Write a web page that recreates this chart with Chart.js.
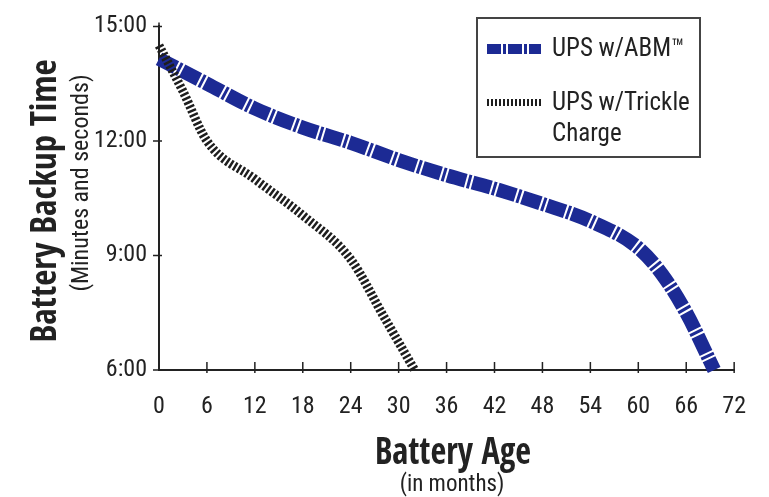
<!DOCTYPE html>
<html>
<head>
<meta charset="utf-8">
<script src="https://cdn.jsdelivr.net/npm/chart.js@4"></script>
<style>
  body { margin: 0; background: #fff; }
  #wrap { position: relative; width: 769px; height: 497px; font-family: "Roboto Condensed", sans-serif; color: #222; }
  canvas { position: absolute; left: 0; top: 0; }
  .t { position: absolute; white-space: nowrap; transform: translate(-50%, -50%); line-height: 1; }
  .bold { font-family: "Open Sans Condensed", "Roboto Condensed", sans-serif; font-weight: bold; }
  .legend { position: absolute; left: 476px; top: 17px; width: 221px; height: 137px; border: 2px solid #444; }
  .sw { position: absolute; left: 9px; width: 54px; }
  .lt { position: absolute; left: 74px; font-size: 25px; line-height: 31px; white-space: nowrap; }
</style>
</head>
<body>
<div id="wrap">
  <canvas id="chart" width="769" height="497"></canvas>
  <div class="t bold" style="left:42px; top:201px; font-size:35px; transform: translate(-50%, -50%) rotate(-90deg);">Battery Backup Time</div>
  <div class="t" style="left:80px; top:183px; font-size:24px; transform: translate(-50%, -50%) rotate(-90deg);">(Minutes and seconds)</div>
  <div class="t bold" style="left:453px; top:449px; font-size:38px; transform: translate(-50%, -50%) scaleX(0.9);">Battery Age</div>
  <div class="t" style="left:452px; top:483px; font-size:23px;">(in months)</div>
  <div class="legend">
    <div class="sw" style="top:25px; height:10px; background: repeating-linear-gradient(90deg, #1c2a94 0 14px, #fff 14px 16px, #1c2a94 16px 19px, #fff 19px 21px);"></div>
    <div class="lt" style="top:13px;">UPS w/ABM™</div>
    <div class="sw" style="top:80px; height:7px; background: repeating-linear-gradient(90deg, #1e1e1e 0 2px, #fff 2px 4px);"></div>
    <div class="lt" style="top:67px;">UPS w/Trickle<br>Charge</div>
  </div>
</div>
<script>
// battery age in months, backup time in minutes
const abmMonths = [0, 6, 12, 18, 24, 30, 36, 42, 48, 54, 60, 63, 66, 69.5];
const abmMinutes = [14.15, 13.5, 12.85, 12.35, 11.95, 11.5, 11.1, 10.75, 10.35, 9.9, 9.2, 8.5, 7.5, 6.0];
const trickleMonths = [0, 3, 6, 12, 18, 24, 28, 32];
const trickleMinutes = [14.5, 13.3, 12.0, 11.0, 10.05, 8.9, 7.45, 6.0];
const xTicks = [0, 6, 12, 18, 24, 30, 36, 42, 48, 54, 60, 66, 72];
const yTicks = [6, 9, 12, 15];

function pts(xs, ys) {
  return xs.map((x, i) => ({ x: x, y: ys[i] }));
}

const labelFont = { family: '"Roboto Condensed", sans-serif', size: 24 };

// tick marks crossing the axes
const crossTicks = {
  id: 'crossTicks',
  afterDraw(chart) {
    const ctx = chart.ctx;
    const xs = chart.scales.x, ys = chart.scales.y;
    const a = chart.chartArea;
    ctx.save();
    ctx.strokeStyle = '#222';
    ctx.lineWidth = 1.5;
    ctx.beginPath();
    xTicks.forEach(v => {
      if (v === 0) return;
      const px = xs.getPixelForValue(v);
      ctx.moveTo(px, a.bottom - 8);
      ctx.lineTo(px, a.bottom + 3);
    });
    yTicks.forEach(v => {
      const py = ys.getPixelForValue(v);
      ctx.moveTo(a.left - 6, py);
      ctx.lineTo(a.left + 3, py);
    });
    // axis runs a little above 15:00
    ctx.moveTo(a.left, a.top);
    ctx.lineTo(a.left, a.top - 4);
    ctx.stroke();
    ctx.restore();
  }
};

new Chart(document.getElementById('chart'), {
  type: 'line',
  data: {
    datasets: [
      {
        label: 'UPS w/Trickle Charge',
        data: pts(trickleMonths, trickleMinutes),
        borderColor: '#1e1e1e',
        borderWidth: 9,
        borderDash: [2.5, 2],
        borderCapStyle: 'butt',
        pointRadius: 0,
        cubicInterpolationMode: 'monotone',
        clip: false
      },
      {
        label: 'UPS w/ABM™',
        data: pts(abmMonths, abmMinutes),
        borderColor: '#1c2a94',
        borderWidth: 14,
        borderDash: [19, 2, 3, 2],
        borderCapStyle: 'butt',
        pointRadius: 0,
        cubicInterpolationMode: 'monotone',
        clip: false
      }
    ]
  },
  options: {
    responsive: false,
    animation: false,
    events: [],
    layout: { padding: { top: 22, right: 31, left: 0, bottom: 0 } },
    plugins: { legend: { display: false }, tooltip: { enabled: false } },
    scales: {
      x: {
        type: 'linear',
        min: 0, max: 72,
        afterBuildTicks: s => { s.ticks = xTicks.map(v => ({ value: v })); },
        afterFit: s => { s.height = 127; },
        grid: { display: false, drawTicks: false },
        border: { display: true, color: '#222', width: 2 },
        ticks: { color: '#222', font: labelFont, padding: 23, maxRotation: 0 }
      },
      y: {
        type: 'linear',
        min: 6, max: 15,
        afterBuildTicks: s => { s.ticks = yTicks.map(v => ({ value: v })); },
        afterFit: s => { s.width = 159; },
        grid: { display: false, drawTicks: false },
        border: { display: true, color: '#222', width: 2 },
        ticks: { color: '#222', font: labelFont, padding: 12, callback: v => v + ':00' }
      }
    }
  },
  plugins: [crossTicks]
});
</script>
</body>
</html>
